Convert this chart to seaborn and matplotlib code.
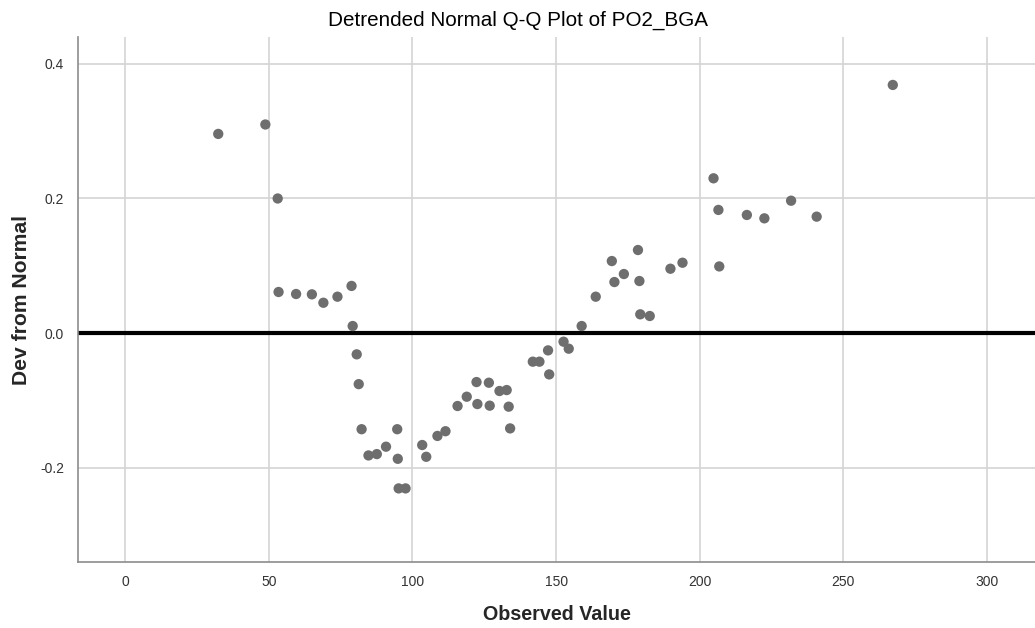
import matplotlib
matplotlib.use("Agg")
import matplotlib.pyplot as plt
import seaborn as sns
import pandas as pd

# Observed PO2_BGA values and their deviation from the normal expectation
observed = [32.4, 48.8, 53.1, 53.4, 59.5, 65.0, 69.0, 73.9, 78.8,
            79.2, 80.6, 81.3, 82.3, 84.7, 87.6, 90.8, 94.7, 94.9, 95.2,
            97.6, 103.4, 104.8, 108.7, 111.5, 115.7, 118.9, 122.3, 122.6,
            126.6, 126.9, 130.3, 132.8, 133.5, 134.0, 141.9, 144.2, 147.2,
            147.6, 152.6, 154.4, 158.9,
            163.8, 169.4, 170.3, 173.6, 178.5, 179.0, 179.3, 182.6, 189.8,
            194.0, 204.8, 206.5, 206.8, 216.4, 222.5, 231.8, 240.7, 267.2]
deviation = [0.296, 0.310, 0.200, 0.061, 0.058, 0.0575, 0.045, 0.054, 0.070,
             0.0104, -0.0317, -0.076, -0.143, -0.182, -0.180, -0.169, -0.143,
             -0.187, -0.231, -0.231, -0.1665, -0.184, -0.153, -0.146, -0.1085,
             -0.0947, -0.0729, -0.1056, -0.0739, -0.108, -0.0862, -0.0848,
             -0.1095, -0.1418, -0.0426, -0.0426, -0.0258, -0.0615, -0.0129,
             -0.0233, 0.0104,
             0.054, 0.107, 0.0758, 0.0877, 0.1234, 0.0773, 0.0278, 0.0253,
             0.0956, 0.1045, 0.230, 0.183, 0.099, 0.1755, 0.1705, 0.1967,
             0.173, 0.3688]

x_ticks = [0, 50, 100, 150, 200, 250, 300]
y_ticks = [-0.2, 0.0, 0.2, 0.4]
y_tick_labels = ["-0.2", "0.0", "0.2", "0.4"]

df = pd.DataFrame({"Observed Value": observed, "Dev from Normal": deviation})

sns.set_theme(style="white")
plt.rcParams["font.family"] = ["Liberation Sans", "DejaVu Sans"]
plt.rcParams["axes.unicode_minus"] = False

fig = plt.figure(figsize=(10.35, 6.28), dpi=100)
ax = fig.add_axes([0.0754, 0.105, 0.9246, 0.836])

sns.scatterplot(data=df, x="Observed Value", y="Dev from Normal", ax=ax,
                color="#6e6e6e", s=55, edgecolor="none", zorder=3)

ax.axhline(0, color="black", linewidth=3.0, zorder=2)

ax.set_xlim(-16.4, 316.7)
ax.set_ylim(-0.3405, 0.44)
ax.set_xticks(x_ticks)
ax.set_yticks(y_ticks)
ax.set_yticklabels(y_tick_labels)

ax.grid(True, color="#d4d4d4", linewidth=1.2, zorder=0)
ax.set_axisbelow(True)

for side in ("top", "right"):
    ax.spines[side].set_visible(False)
for side in ("left", "bottom"):
    ax.spines[side].set_color("#8c8c8c")
    ax.spines[side].set_linewidth(1.2)

ax.tick_params(axis="both", which="major", length=4, width=1, color="#8c8c8c",
               labelsize=10, labelcolor="#333333", pad=6)
ax.tick_params(axis="x", pad=5)

fig.suptitle("Detrended Normal Q-Q Plot of PO2_BGA", x=0.5, y=0.968,
             va="center", fontsize=14.9, color="black")
ax.set_xlabel("Observed Value", fontsize=14.2, fontweight="bold")
ax.set_ylabel("Dev from Normal", fontsize=15.2, fontweight="bold")
ax.yaxis.set_label_coords(-0.059, 0.5)
ax.xaxis.set_label_coords(0.5, -0.1)
ax.xaxis.label.set_va("center")
ax.yaxis.label.set_va("center")

fig.savefig("out.png", dpi=100)
